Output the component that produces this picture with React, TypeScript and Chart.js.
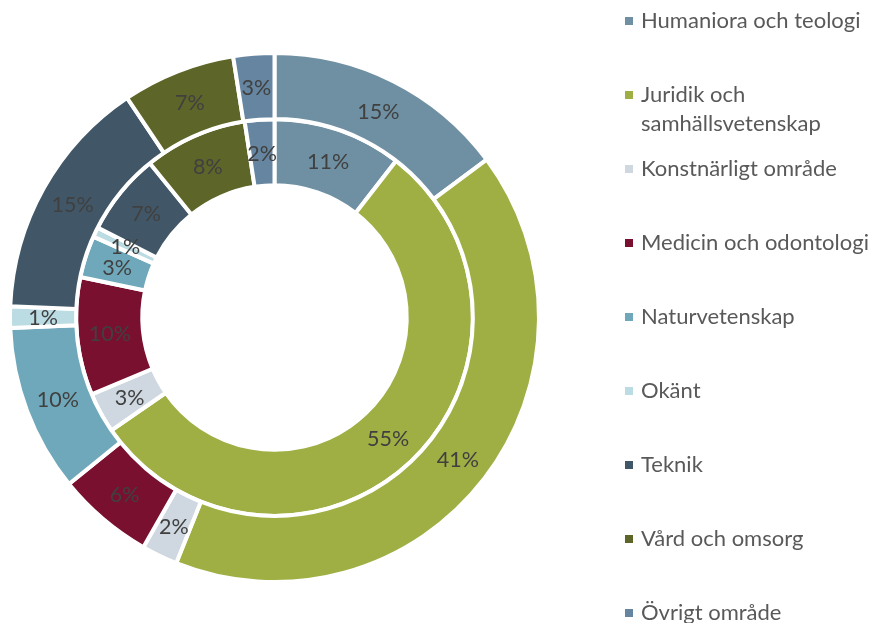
import React, { useEffect, useRef } from "react";
import { Chart, registerables } from "chart.js";

Chart.register(...registerables);

const categories = [
  "Humaniora och teologi",
  "Juridik och samhällsvetenskap",
  "Konstnärligt område",
  "Medicin och odontologi",
  "Naturvetenskap",
  "Okänt",
  "Teknik",
  "Vård och omsorg",
  "Övrigt område",
];
const legendLines = [
  ["Humaniora och teologi"],
  ["Juridik och", "samhällsvetenskap"],
  ["Konstnärligt område"],
  ["Medicin och odontologi"],
  ["Naturvetenskap"],
  ["Okänt"],
  ["Teknik"],
  ["Vård och omsorg"],
  ["Övrigt område"],
];
const outerValues = [14.8, 41.2, 2.2, 5.9, 10.2, 1.3, 14.9, 6.9, 2.5];
const innerValues = [10.5, 54.8, 3.3, 9.6, 3.4, 0.8, 6.7, 8.4, 2.4];
const colors = [
  "#6F90A3",
  "#9FAF43",
  "#CFD8E0",
  "#7A1030",
  "#6FA8BA",
  "#BCDCE3",
  "#415767",
  "#5D6528",
  "#6585A0",
];

const FONT = "Lato, 'Open Sans', sans-serif";

const labelPlugin = {
  id: "sliceLabels",
  afterDatasetsDraw(chart: any) {
    const ctx = chart.ctx;
    ctx.save();
    ctx.font = `21.5px ${FONT}`;
    ctx.fillStyle = "#404040";
    ctx.textAlign = "center";
    ctx.textBaseline = "middle";
    chart.data.datasets.forEach((ds: any, di: number) => {
      const meta = chart.getDatasetMeta(di);
      const total = ds.data.reduce((a: number, b: number) => a + b, 0);
      meta.data.forEach((arc: any, i: number) => {
        const p = arc.tooltipPosition();
        const pct = Math.round((ds.data[i] / total) * 100);
        ctx.fillText(pct + "%", p.x, p.y + 1);
      });
    });
    ctx.restore();
  },
};

const legendPlugin = {
  id: "customLegend",
  afterDraw(chart: any) {
    const ctx = chart.ctx;
    ctx.save();
    ctx.font = `22px ${FONT}`;
    ctx.textAlign = "left";
    ctx.textBaseline = "middle";
    const x0 = 625;
    const y0 = 21;
    const step = 74;
    legendLines.forEach((lines, i) => {
      const y = y0 + i * step;
      ctx.fillStyle = colors[i];
      ctx.fillRect(x0, y - 4, 8, 8);
      ctx.fillStyle = "#595959";
      lines.forEach((t, li) => {
        ctx.fillText(t, x0 + 16, y + li * 29);
      });
    });
    ctx.restore();
  },
};

export default function App() {
  const ref = useRef<HTMLCanvasElement | null>(null);
  useEffect(() => {
    document.body.style.margin = "0";
    const canvas = ref.current!;
    const chart = new Chart(canvas, {
      type: "doughnut",
      data: {
        labels: categories,
        datasets: [
          {
            data: outerValues,
            backgroundColor: colors,
            borderColor: "#FFFFFF",
            borderWidth: 4,
          },
          {
            data: innerValues,
            backgroundColor: colors,
            borderColor: "#FFFFFF",
            borderWidth: 4,
          },
        ],
      },
      options: {
        responsive: false,
        animation: false,
        cutout: "50%",
        layout: { padding: { left: 8, top: 51, right: 332, bottom: 39 } },
        plugins: {
          legend: { display: false },
          tooltip: { enabled: false },
        },
      },
      plugins: [labelPlugin, legendPlugin],
    });
    return () => chart.destroy();
  }, []);
  return (
    <div style={{ width: 873, height: 623, background: "#fff" }}>
      <canvas ref={ref} width={873} height={623} style={{ display: "block" }} />
    </div>
  );
}
